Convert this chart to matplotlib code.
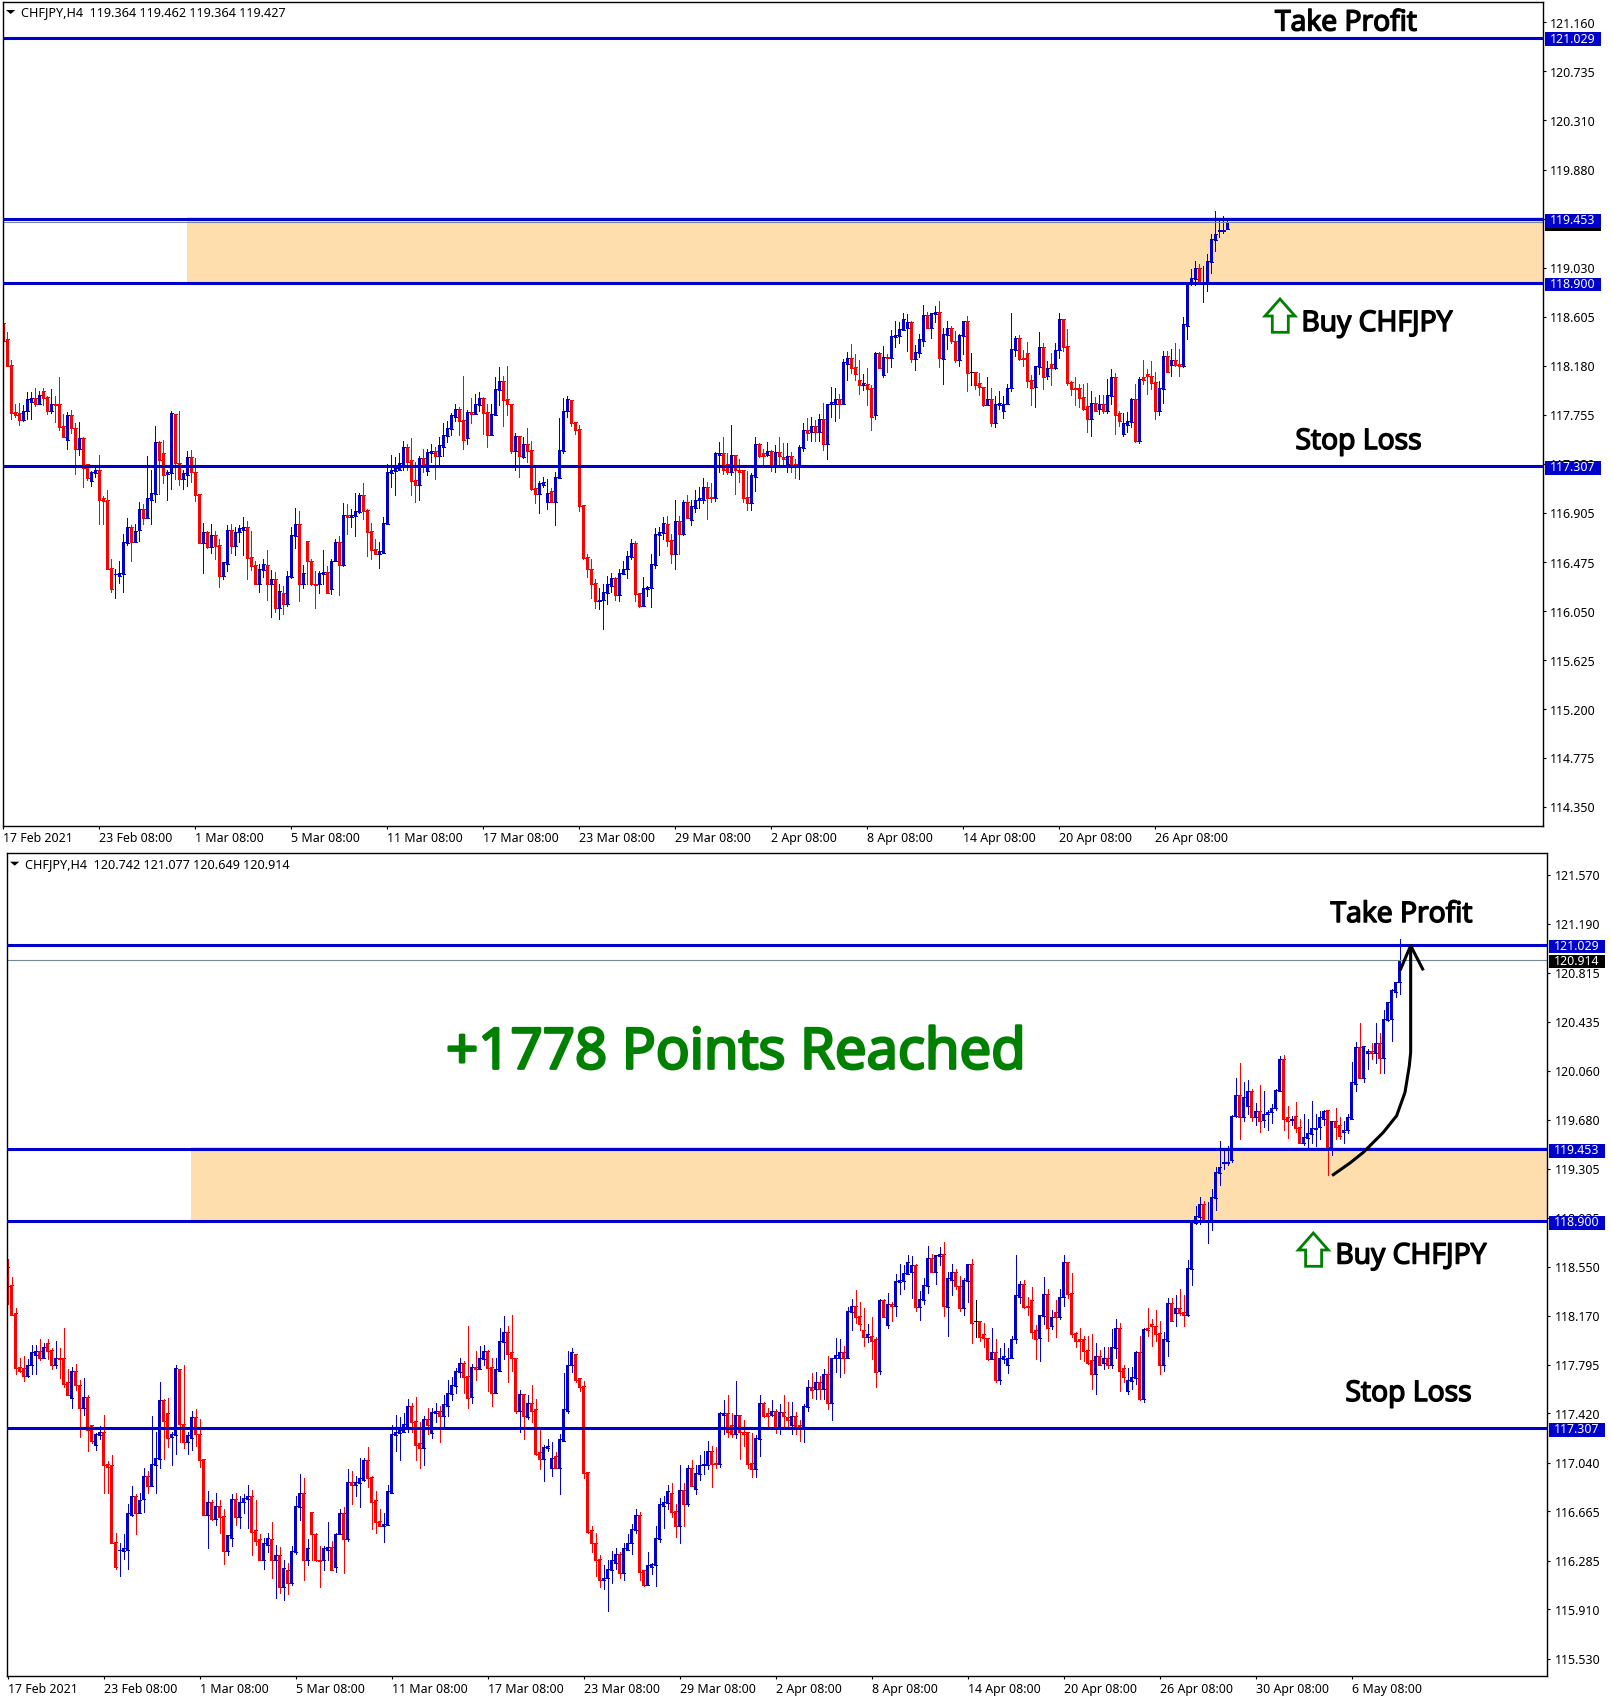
import numpy as np
import matplotlib
matplotlib.use("Agg")
import matplotlib.pyplot as plt
import matplotlib.patheffects as pe
from matplotlib.patches import Polygon, Rectangle
from matplotlib.lines import Line2D
from matplotlib.transforms import blended_transform_factory, ScaledTranslation

direction = ("RRRRRBBBRB" "RRBRRRBRRB" "RRBBRRRRBB" "BBRBBRBBBR" "RBBRRBBRRR"
             "BRBRRBBRBB" "BRRRBBRBRB" "RBBBRBRRRB" "BRBBRBRBBB" "RRRRBBBBBB"
             "BRRRBRBBRB" "BBBBRRBRBB" "RRBBBRRRBR" "BRRRBBBRBB" "BBRRRRRRRB"
             "BBBRBBBBRR" "BBBBBBRRBR" "BRBBBBRRBB" "RRBRRRRBBR" "RBRBRRBRRB"
             "BRBRBRBBBR" "BBRRRBRRBR" "BRBBBBBRBB" "BRBBRBBRRB" "BRFRRRBRBB"
             "BBBBRRRRBB" "RBRBBRRRRR" "RRBRBRBBRR" "BBBRBRRRRB" "BRBRRBBBBR"
             "BBBBBBBBRB" "BRBRBBBBBR" "RBRRBBBBBB" "RBRRBBBBRB" "BRBRBBBBB")

highs = [
118.61,118.47,118.23,117.85,117.86,117.84,117.95,117.95,117.99,117.96,
117.99,117.92,117.98,117.92,118.08,117.76,117.78,117.80,117.68,117.69,
117.56,117.33,117.27,117.32,117.41,117.05,117.10,116.50,116.42,116.49,
116.72,116.86,116.80,116.81,117.00,116.98,117.40,117.28,117.66,117.53,
117.54,117.28,117.79,117.76,117.79,117.28,117.44,117.45,117.38,117.07,
116.82,116.75,116.81,116.75,116.68,116.48,116.80,116.81,116.78,116.80,
116.87,116.83,116.75,116.49,116.46,116.50,116.58,116.41,116.39,116.29,
116.27,116.40,116.78,116.95,116.92,116.45,116.66,116.50,116.40,116.40,
116.58,116.44,116.50,116.68,116.70,116.99,116.98,116.94,117.08,117.08,
117.16,116.94,116.82,116.68,116.65,116.87,117.33,117.41,117.39,117.42,
117.53,117.50,117.55,117.35,117.40,117.46,117.46,117.50,117.48,117.56,
117.68,117.70,117.77,117.85,117.82,118.09,117.80,117.90,117.94,117.95,
117.91,117.85,117.85,118.08,118.17,118.09,118.18,117.85,117.60,117.57,
117.56,117.64,117.53,117.29,117.18,117.22,117.20,117.12,117.26,117.73,
117.90,117.92,117.88,117.69,117.67,116.97,116.55,116.50,116.33,116.25,
116.29,116.36,116.38,116.35,116.42,116.49,116.57,116.68,116.66,116.21,
116.35,116.27,116.55,116.77,116.78,116.87,116.88,116.72,117.02,116.88,
117.02,117.06,117.02,117.10,117.13,117.21,117.17,117.16,117.43,117.52,
117.56,117.42,117.67,117.41,117.37,117.28,117.27,117.25,117.56,117.51,
117.46,117.52,117.45,117.49,117.56,117.51,117.51,117.43,117.37,117.49,
117.68,117.73,117.74,117.71,117.76,117.86,117.85,118.00,117.99,117.94,
118.24,118.30,118.37,118.28,118.23,118.11,118.16,118.01,118.30,118.30,
118.35,118.28,118.49,118.57,118.56,118.64,118.63,118.57,118.36,118.46,
118.71,118.65,118.64,118.70,118.74,118.51,118.57,118.53,118.48,118.46,
118.57,118.61,118.29,118.13,118.12,118.00,118.08,117.99,117.92,117.96,
117.92,118.02,118.64,118.44,118.45,118.32,118.39,118.10,118.18,118.47,
118.38,118.22,118.29,118.38,118.64,118.59,118.50,118.05,118.08,118.02,
118.02,118.03,117.96,117.91,117.93,117.93,118.07,118.15,118.12,117.79,
117.77,117.78,117.90,118.02,118.08,118.23,118.15,118.22,118.13,118.05,
118.31,118.31,118.33,118.38,118.33,118.60,118.90,119.02,119.09,119.06,
119.05,119.15,119.32,119.52,119.44,119.48,119.72,120.00,120.12,119.97,
119.99,119.92,119.81,119.95,119.90,119.76,119.80,119.92,120.17,120.18,
119.79,119.71,119.82,119.69,119.73,119.69,119.83,119.73,119.75,119.76,
119.76,119.67,119.77,119.70,119.67,119.73,120.13,120.28,120.43,120.25,
120.23,120.27,120.43,120.35,120.53,120.59,120.69,120.74,121.077]

body_tops = [
118.55,118.41,118.19,117.78,117.77,117.79,117.89,117.90,117.90,117.93,
117.96,117.91,117.85,117.85,117.85,117.66,117.75,117.75,117.64,117.55,
117.55,117.33,117.26,117.28,117.28,117.03,117.02,116.43,116.37,116.38,
116.65,116.78,116.78,116.75,116.94,116.94,117.03,117.08,117.52,117.52,
117.42,117.26,117.77,117.76,117.34,117.25,117.39,117.39,117.26,117.07,
116.74,116.74,116.71,116.71,116.63,116.48,116.76,116.76,116.74,116.77,
116.78,116.78,116.52,116.45,116.42,116.46,116.45,116.33,116.33,116.23,
116.21,116.36,116.71,116.81,116.81,116.38,116.66,116.49,116.29,116.38,
116.39,116.39,116.49,116.65,116.65,116.89,116.89,116.89,116.92,117.06,
117.06,116.93,116.75,116.59,116.57,116.82,117.26,117.28,117.29,117.34,
117.48,117.48,117.36,117.19,117.38,117.38,117.43,117.44,117.44,117.49,
117.58,117.64,117.75,117.81,117.81,117.71,117.78,117.78,117.85,117.90,
117.90,117.78,117.76,117.98,118.05,118.05,117.89,117.85,117.57,117.57,
117.50,117.50,117.45,117.12,117.16,117.17,117.08,117.09,117.22,117.45,
117.79,117.89,117.88,117.69,117.63,116.97,116.52,116.42,116.30,116.15,
116.22,116.29,116.34,116.34,116.38,116.42,116.53,116.64,116.64,116.21,
116.25,116.26,116.46,116.72,116.74,116.82,116.81,116.67,116.83,116.83,
117.00,117.00,116.96,117.02,117.03,117.13,117.13,117.04,117.42,117.42,
117.42,117.33,117.41,117.41,117.28,117.28,117.04,117.23,117.50,117.50,
117.42,117.44,117.44,117.43,117.43,117.39,117.40,117.40,117.33,117.48,
117.62,117.62,117.66,117.66,117.72,117.72,117.85,117.87,117.89,117.89,
118.21,118.25,118.25,118.17,118.06,118.03,118.02,117.99,118.29,118.29,
118.26,118.26,118.44,118.45,118.50,118.59,118.56,118.56,118.30,118.41,
118.62,118.62,118.64,118.65,118.65,118.46,118.51,118.51,118.40,118.45,
118.57,118.57,118.13,118.13,118.03,118.00,117.89,117.89,117.85,117.86,
117.85,117.99,118.33,118.42,118.42,118.25,118.29,118.06,118.18,118.34,
118.34,118.16,118.20,118.32,118.59,118.59,118.35,118.04,117.99,117.99,
117.91,117.83,117.86,117.86,117.85,117.85,117.93,118.08,118.08,117.77,
117.68,117.70,117.89,117.89,118.07,118.08,118.11,118.09,118.04,117.99,
118.27,118.27,118.23,118.23,118.20,118.54,118.90,118.94,119.03,119.03,
118.91,119.09,119.28,119.32,119.36,119.36,119.71,119.87,119.87,119.86,
119.90,119.90,119.75,119.75,119.73,119.74,119.77,119.91,120.15,120.15,
119.70,119.69,119.71,119.63,119.55,119.58,119.62,119.62,119.70,119.75,
119.76,119.67,119.67,119.64,119.60,119.70,119.97,120.24,120.24,120.25,
120.21,120.21,120.27,120.27,120.46,120.59,120.68,120.74,120.914]

body_bottoms = [
118.40,118.18,117.77,117.75,117.71,117.71,117.79,117.87,117.85,117.85,
117.90,117.79,117.79,117.84,117.65,117.56,117.54,117.64,117.46,117.46,
117.29,117.21,117.18,117.25,117.02,117.01,116.42,116.24,116.37,116.36,
116.37,116.64,116.65,116.65,116.76,116.86,116.86,117.02,117.07,117.36,
117.23,117.24,117.25,117.34,117.20,117.20,117.23,117.26,117.06,116.64,
116.64,116.61,116.61,116.62,116.36,116.36,116.46,116.62,116.62,116.74,
116.76,116.51,116.44,116.29,116.29,116.41,116.29,116.29,116.08,116.08,
116.11,116.11,116.35,116.70,116.29,116.29,116.49,116.29,116.28,116.29,
116.37,116.21,116.24,116.49,116.45,116.45,116.87,116.87,116.88,116.91,
116.92,116.74,116.58,116.55,116.55,116.56,116.81,117.25,117.27,117.28,
117.31,117.35,117.18,117.15,117.15,117.33,117.27,117.42,117.40,117.40,
117.48,117.57,117.63,117.74,117.70,117.54,117.55,117.76,117.76,117.84,
117.77,117.58,117.58,117.75,117.97,117.88,117.85,117.44,117.44,117.40,
117.39,117.44,117.11,117.07,117.07,117.15,117.00,117.00,117.00,117.21,
117.44,117.79,117.68,117.62,116.96,116.51,116.42,116.29,116.14,116.14,
116.15,116.21,116.27,116.19,116.19,116.37,116.42,116.52,116.20,116.10,
116.10,116.24,116.25,116.45,116.71,116.73,116.66,116.55,116.55,116.72,
116.72,116.86,116.84,116.95,117.02,117.02,117.03,117.03,117.03,117.41,
117.28,117.26,117.26,117.28,117.26,117.03,116.99,116.99,117.22,117.40,
117.40,117.41,117.31,117.31,117.40,117.37,117.33,117.31,117.31,117.31,
117.47,117.60,117.61,117.61,117.61,117.50,117.50,117.85,117.85,117.85,
117.85,118.20,118.16,118.11,118.01,118.01,117.98,117.74,117.75,118.16,
118.10,118.25,118.25,118.43,118.44,118.49,118.51,118.24,118.24,118.29,
118.40,118.51,118.51,118.63,118.25,118.24,118.45,118.40,118.23,118.23,
118.44,118.12,118.13,118.01,118.00,117.84,117.84,117.68,117.68,117.84,
117.79,117.85,117.99,118.32,118.24,118.24,118.05,117.99,118.00,118.17,
118.08,118.09,118.16,118.16,118.32,118.34,118.03,117.98,117.98,117.90,
117.81,117.72,117.72,117.79,117.81,117.79,117.79,117.92,117.75,117.70,
117.59,117.67,117.69,117.53,117.53,118.06,118.09,118.03,117.79,117.79,
117.98,118.13,118.19,118.19,118.18,118.18,118.53,118.89,118.93,118.91,
118.90,118.91,119.08,119.27,119.35,119.35,119.37,119.71,119.70,119.70,
119.79,119.70,119.70,119.67,119.68,119.73,119.74,119.77,119.90,119.69,
119.67,119.68,119.62,119.50,119.50,119.54,119.57,119.61,119.63,119.69,
119.47,119.46,119.63,119.56,119.59,119.60,119.69,119.96,120.00,120.00,
120.20,120.20,120.20,120.16,120.16,120.45,120.46,120.67,120.742]

lows = [
118.26,118.18,117.72,117.74,117.67,117.70,117.72,117.72,117.83,117.85,
117.84,117.76,117.77,117.69,117.62,117.56,117.46,117.60,117.24,117.41,
117.13,117.19,117.14,117.22,116.81,116.81,116.42,116.22,116.17,116.30,
116.22,116.63,116.49,116.65,116.66,116.81,116.86,116.81,117.00,117.07,
117.16,117.02,117.11,117.20,117.15,117.11,117.14,117.17,117.01,116.64,
116.38,116.60,116.56,116.50,116.26,116.33,116.40,116.56,116.54,116.65,
116.54,116.33,116.41,116.29,116.22,116.35,116.15,116.00,116.04,115.98,
116.03,116.10,116.34,116.60,116.14,116.25,116.29,116.28,116.08,116.21,
116.29,116.21,116.20,116.49,116.19,116.44,116.72,116.78,116.70,116.90,
116.85,116.53,116.50,116.55,116.43,116.56,116.81,117.13,117.06,117.28,
117.28,117.28,117.06,117.00,117.02,117.26,117.23,117.35,117.20,117.31,
117.40,117.52,117.58,117.70,117.58,117.46,117.50,117.68,117.76,117.79,
117.59,117.48,117.58,117.75,117.84,117.66,117.75,117.42,117.28,117.22,
117.38,117.35,117.10,116.99,116.90,117.13,116.94,117.00,116.80,117.21,
117.42,117.74,117.66,117.59,116.92,116.50,116.35,116.17,116.08,116.07,
115.90,116.11,116.22,116.15,116.14,116.37,116.34,116.50,116.14,116.09,
116.10,116.18,116.09,116.43,116.54,116.68,116.62,116.47,116.42,116.55,
116.71,116.86,116.80,116.91,116.95,116.99,116.85,117.00,117.01,117.26,
117.24,117.24,117.23,117.07,117.17,117.00,116.93,116.93,117.09,117.39,
117.32,117.40,117.27,117.26,117.32,117.31,117.26,117.26,117.21,117.20,
117.44,117.54,117.53,117.53,117.53,117.45,117.37,117.74,117.70,117.73,
117.85,118.06,118.12,118.06,117.94,117.97,117.84,117.62,117.72,118.16,
118.08,118.13,118.17,118.34,118.38,118.49,118.31,118.21,118.14,118.26,
118.35,118.51,118.42,118.56,118.17,118.02,118.33,118.38,118.21,118.18,
118.28,117.96,118.01,117.98,117.93,117.83,117.84,117.66,117.65,117.81,
117.73,117.85,117.96,118.27,118.23,118.18,118.00,117.84,117.82,118.11,
117.98,118.07,118.01,118.15,118.25,118.31,118.01,117.93,117.84,117.82,
117.80,117.61,117.57,117.79,117.76,117.77,117.77,117.85,117.59,117.66,
117.57,117.61,117.65,117.52,117.51,118.02,117.94,117.98,117.72,117.75,
117.86,118.13,118.09,118.18,118.09,118.17,118.41,118.88,118.88,118.90,
118.73,118.83,118.99,119.18,119.30,119.33,119.36,119.70,119.53,119.67,
119.73,119.67,119.64,119.59,119.63,119.60,119.66,119.76,119.90,119.60,
119.54,119.64,119.59,119.50,119.49,119.47,119.50,119.48,119.53,119.64,
119.26,119.41,119.53,119.53,119.50,119.58,119.69,119.90,120.00,119.97,
120.07,120.15,120.12,120.04,120.04,120.44,120.29,120.63,120.649]

top_last_bar = [119.364, 119.462, 119.364, 119.427]   # open, high, low, close
bar_count_top = 307

date_labels = ["17 Feb 2021","23 Feb 08:00","1 Mar 08:00","5 Mar 08:00","11 Mar 08:00",
               "17 Mar 08:00","23 Mar 08:00","29 Mar 08:00","2 Apr 08:00","8 Apr 08:00",
               "14 Apr 08:00","20 Apr 08:00","26 Apr 08:00","30 Apr 08:00","6 May 08:00"]
top_price_ticks = [121.160,120.735,120.310,119.880,119.455,119.030,118.605,118.180,117.755,
                   117.330,116.905,116.475,116.050,115.625,115.200,114.775,114.350]
bottom_price_ticks = [121.570,121.190,120.815,120.435,120.060,119.680,119.305,118.925,118.550,
                      118.170,117.795,117.420,117.040,116.665,116.285,115.910,115.530]
levels = [121.029, 119.453, 118.900, 117.307]
zone_low, zone_high = 118.885, 119.475
zone_start_bar = 45.8
header_top = "CHFJPY,H4  119.364 119.462 119.364 119.427"
header_bottom = "CHFJPY,H4  120.742 121.077 120.649 120.914"

W, H = 1612, 1708
BLUE, RED, ZONE, GREEN = "#0000CD", "#FF0000", "#FFDEAD", "#008000"
TICK_FONT = "Noto Sans"
NOTE_FONT = "Open Sans"

highs, lows, body_tops, body_bottoms = map(np.array, (highs, lows, body_tops, body_bottoms))
is_up = np.array([d == "B" for d in direction])
opens = np.where(is_up, body_bottoms, body_tops)
closes = np.where(is_up, body_tops, body_bottoms)
cols = np.array([{"B": BLUE, "R": RED, "F": "black"}[d] for d in direction])

fig = plt.figure(figsize=(W / 100, H / 100), dpi=100, facecolor="white")


def P(x, y):
    return (x / W, 1 - y / H)


def make_axes(l, t, r, b, xlim, ylim):
    ax = fig.add_axes([l / W, 1 - b / H, (r - l) / W, (b - t) / H])
    ax.set_xlim(*xlim)
    ax.set_ylim(*ylim)
    for s in ax.spines.values():
        s.set_linewidth(1.0)
    return ax


def candles(ax, o, h, l, c, colours):
    x = np.arange(len(o))
    ax.vlines(x, l, h, colors=colours, linewidth=0.7, antialiased=False, zorder=2)
    ax.bar(x, np.abs(c - o), bottom=np.minimum(o, c), width=0.75, color=colours,
           linewidth=0, antialiased=False, zorder=2.1)
    ax.hlines(o, x - 0.375, x + 0.375, colors=colours, linewidth=0.7, antialiased=False, zorder=2.1)
    ax.hlines(c, x - 0.375, x + 0.375, colors=colours, linewidth=0.7, antialiased=False, zorder=2.1)


def panel(ax, o, h, l, c, colours, ticks, dates, bid, header, hx, hy, left_px, right_px, ppu):
    ax.fill_between([zone_start_bar, ax.get_xlim()[1]], zone_low, zone_high, color=ZONE, lw=0, zorder=1)
    candles(ax, o, h, l, c, colours)
    ax.axhline(bid, color="#778899", lw=0.8, zorder=2.5)
    for lv in levels:
        ax.axhline(lv, color=BLUE, lw=2.2, zorder=3)
    ax.yaxis.tick_right()
    ax.set_yticks(ticks)
    ax.set_yticklabels([f"{t:.3f}" for t in ticks], fontfamily=TICK_FONT, fontsize=8.9)
    ax.tick_params(axis="y", length=2.5, width=0.8, pad=2.6)
    up = ScaledTranslation(0, 0.8 / 100, fig.dpi_scale_trans)
    for lab in ax.get_yticklabels():
        lab.set_transform(lab.get_transform() + up)
    xt = np.arange(len(dates)) * 24
    ax.set_xticks(xt)
    ax.set_xticklabels(dates, fontfamily=TICK_FONT, fontsize=8.9, ha="left")
    ax.tick_params(axis="x", length=2.5, width=0.8, pad=1.5)
    tr = blended_transform_factory(fig.transFigure, ax.transData)
    box_h = 13.5 / ppu
    text_x = (right_px + 7) / W
    box_levels = [(bid, "black")] + [(lv, BLUE) for lv in levels]
    for lv, col in box_levels:
        ax.add_patch(Rectangle(((right_px + 2) / W, lv - box_h / 2 - 1.7 / ppu), 56 / W, box_h,
                               transform=tr, facecolor=col, edgecolor="none", clip_on=False, zorder=9))
        if col == "black" and abs(lv - levels[1]) < 0.1:
            continue
        ax.text(text_x, lv - 0.5 / ppu, f"{lv:.3f}", transform=tr, color="white", fontfamily=TICK_FONT,
                fontsize=8.9, va="center", ha="left", clip_on=False, zorder=10)
    fig.text(*P(hx, hy), header, fontfamily=TICK_FONT, fontsize=9.1, va="center", ha="left", color="black")
    tri = Polygon([P(hx - 15, hy - 2), P(hx - 5.7, hy - 2), P(hx - 10.3, hy + 2)], closed=True,
                  transform=fig.transFigure, facecolor="black", edgecolor="none")
    fig.add_artist(tri)


def note(x, y, s, size=20.4, color="black", stroke=1.1):
    fig.text(*P(x, y), s, fontfamily=NOTE_FONT, fontsize=size, color=color, ha="center", va="center",
             zorder=20, path_effects=[pe.withStroke(linewidth=stroke, foreground=color)])


def up_arrow(dx, dy):
    pts = [(1280, 300), (1295, 317), (1288.3, 317), (1288.3, 333.3), (1272.3, 333.3), (1272.3, 317), (1265, 317)]
    fig.add_artist(Polygon([P(x + dx, y + dy) for x, y in pts], closed=True, transform=fig.transFigure,
                           facecolor="white", edgecolor=GREEN, lw=2.0, joinstyle="miter", zorder=20))


n = bar_count_top
top_o, top_h, top_l, top_c = opens[:n].copy(), highs[:n].copy(), lows[:n].copy(), closes[:n].copy()
top_o[-1], top_h[-1], top_l[-1], top_c[-1] = top_last_bar

ax1 = make_axes(2.5, 2.7, 1543, 826.7, (-0.2, 384.9), (114.19, 121.34))
panel(ax1, top_o, top_h, top_l, top_c, cols[:n], top_price_ticks, date_labels[:13], 119.427,
      header_top, 21, 13, 2.5, 1543, 115.3)

ax2 = make_axes(6.7, 854, 1547.3, 1677, (-0.2, 384.9), (115.397, 121.737))
panel(ax2, opens, highs, lows, closes, cols, bottom_price_ticks, date_labels, 120.914,
      header_bottom, 25, 864.7, 6.7, 1547.3, 129.8)

note(1346, 24.5, "Take Profit")
note(1377, 325, "Buy CHFJPY")
note(1358.5, 443, "Stop Loss")
up_arrow(0, 0)
note(1401.5, 916, "Take Profit")
note(1411, 1257.5, "Buy CHFJPY")
note(1408.5, 1395, "Stop Loss")
up_arrow(33.3, 934)
note(736, 1055, "+1778 Points Reached", size=40.6, color=GREEN, stroke=2.0)

curve = [(550, 947), (600, 912), (640, 880), (700, 820), (740, 770), (765, 700), (778, 620), (782, 580), (782, 262)]
head = [(752, 330), (782, 260), (818, 330)]
for seg in (curve, head):
    xs, ys = zip(*[P(1150 + a / 3, 860 + b / 3) for a, b in seg])
    fig.add_artist(Line2D(xs, ys, transform=fig.transFigure, color="black", lw=2.2, zorder=20,
                          solid_joinstyle="round"))

fig.savefig("out.png", dpi=100, facecolor="white")
